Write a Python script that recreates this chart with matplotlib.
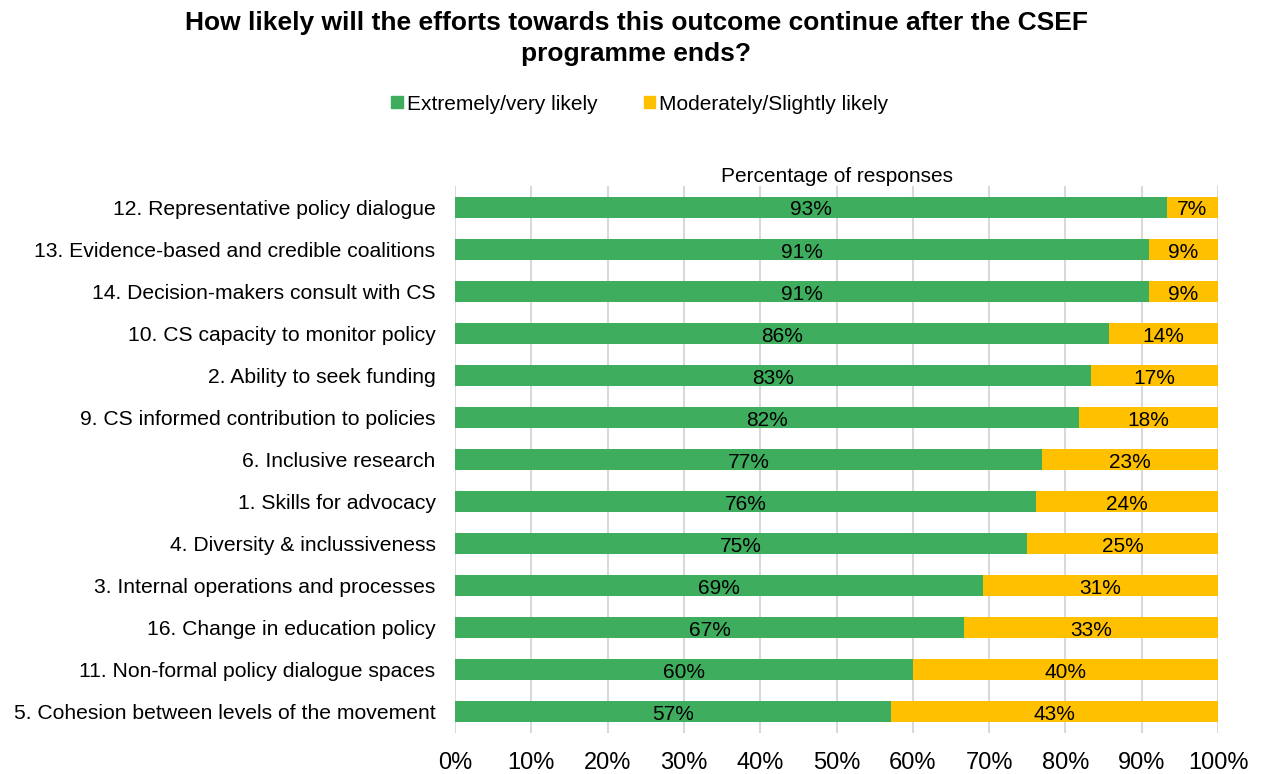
import numpy as np
import matplotlib
matplotlib.use("Agg")
import matplotlib.pyplot as plt
from matplotlib.patches import Patch

plt.rcParams['font.family'] = ['Liberation Sans', 'DejaVu Sans']

categories = [
    "12. Representative policy dialogue",
    "13. Evidence-based and credible coalitions",
    "14. Decision-makers consult with CS",
    "10. CS capacity to monitor policy",
    "2. Ability to seek funding",
    "9. CS informed contribution to policies",
    "6. Inclusive research",
    "1. Skills for advocacy",
    "4. Diversity & inclussiveness",
    "3. Internal operations and processes",
    "16. Change in education policy",
    "11. Non-formal policy dialogue spaces",
    "5. Cohesion between levels of the movement",
]
very_likely = [0.933, 0.909, 0.909, 0.857, 0.833, 0.818, 0.769, 0.762, 0.75, 0.692, 0.667, 0.60, 0.571]
moderately = [1 - v for v in very_likely]
ticks = np.arange(0, 1.01, 0.1)
tick_labels = ["%d%%" % round(t * 100) for t in ticks]

green = "#3EAE5E"
yellow = "#FFC000"

fig = plt.figure(figsize=(12.62, 7.74), dpi=100)
ax = fig.add_axes([455 / 1262, 1 - 733 / 774, 763 / 1262, 547 / 774])

y = np.arange(len(categories))
ax.barh(y, very_likely, height=0.5, color=green, zorder=3)
ax.barh(y, moderately, left=very_likely, height=0.5, color=yellow, zorder=3)

# value labels centred in each segment
for i in range(len(categories)):
    g = very_likely[i]
    m = moderately[i]
    ax.text(g / 2, y[i] + 0.07, "%d%%" % round(g * 100), ha="center", va="center", fontsize=15, zorder=4)
    ax.text(g + m / 2, y[i] + 0.07, "%d%%" % round(m * 100), ha="center", va="center", fontsize=15, zorder=4)

ax.set_xlim(0, 1)
ax.set_ylim(len(categories) - 0.5, -0.5)
ax.set_xticks(ticks)
ax.set_xticklabels(tick_labels, fontsize=17)
ax.set_yticks(y)
ax.set_yticklabels(categories, fontsize=15.2)
ax.tick_params(axis="both", length=0)
ax.tick_params(axis="x", pad=14)
ax.tick_params(axis="y", pad=14)
ax.grid(axis="x", color="#d9d9d9", linewidth=1.5, zorder=0)
for s in ax.spines.values():
    s.set_visible(False)

ax.set_title("Percentage of responses", fontsize=15, pad=3)

fig.text(0.504, 1 - 11 / 774, "How likely will the efforts towards this outcome continue after the CSEF\nprogramme ends?",
         ha="center", va="top", fontsize=19, fontweight="bold", linespacing=1.35)

handles = [Patch(color=green, label="Extremely/very likely"),
           Patch(color=yellow, label="Moderately/Slightly likely")]
fig.legend(handles=handles, loc="center", bbox_to_anchor=(0.507, 1 - 104 / 774), ncol=2,
           frameon=False, fontsize=15, handlelength=0.55, handleheight=0.55,
           handletextpad=0.2, columnspacing=2.2)

fig.savefig("out.png", dpi=100)
